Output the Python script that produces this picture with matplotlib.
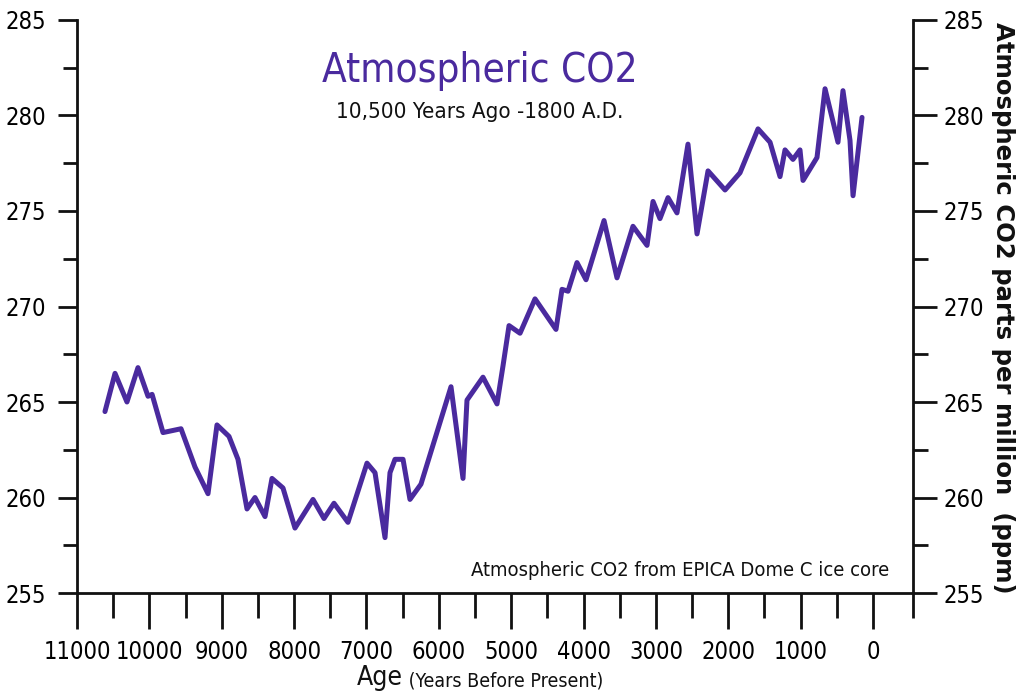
import matplotlib
matplotlib.use("Agg")
import matplotlib.pyplot as plt
from matplotlib import font_manager as fm
from matplotlib.ticker import FixedLocator, MultipleLocator

# data ---------------------------------------------------------------------------------------------------------------
age = [10614, 10475, 10310, 10158, 10019, 9963, 9812, 9563, 9370, 9190, 9066, 8900, 8776, 8651, 8541, 8402, 8306, 8154,
       7988, 7739, 7587, 7449, 7256, 6993, 6882, 6744, 6675, 6606, 6495, 6399, 6247, 5832, 5666, 5611,
       5390, 5196, 5113, 5030, 4878, 4671, 4381, 4298, 4215, 4091, 3966, 3717, 3538, 3317, 3123, 3040,
       2944, 2833, 2709, 2557, 2432, 2280, 2045, 1838, 1589, 1423, 1285, 1216, 1106, 1009, 967, 774,
       663, 484, 415, 318, 276, 152]
co2 = [264.5, 266.5, 265.0, 266.8, 265.3, 265.4, 263.4, 263.6, 261.6, 260.2, 263.8, 263.2, 262.0, 259.4, 260.0, 259.0, 261.0, 260.5,
       258.4, 259.9, 258.9, 259.7, 258.7, 261.8, 261.3, 257.9, 261.3, 262.0, 262.0, 259.9, 260.7, 265.8, 261.0, 265.1,
       266.3, 264.9, 266.9, 269.0, 268.6, 270.4, 268.8, 270.9, 270.8, 272.3, 271.4, 274.5, 271.5, 274.2, 273.2, 275.5,
       274.6, 275.7, 274.9, 278.5, 273.8, 277.1, 276.1, 277.0, 279.3, 278.6, 276.8, 278.2, 277.7, 278.2, 276.6, 277.8,
       281.4, 278.6, 281.3, 278.7, 275.8, 279.9]

x_ticks = [11000, 10000, 9000, 8000, 7000, 6000, 5000, 4000, 3000, 2000, 1000, 0]
x_minor = [10500, 9500, 8500, 7500, 6500, 5500, 4500, 3500, 2500, 1500, 500]
y_ticks = [255, 260, 265, 270, 275, 280, 285]

# look for a condensed face, the original uses one -------------------------------------------------------------------
narrow_file = None
for f in fm.fontManager.ttflist:
    if f.style != 'normal' or f.weight not in (400, 'normal', 'regular', 'book'):
        continue
    if 'Narrow' in f.name or 'Condensed' in f.name or f.stretch in ('condensed', 'semi-condensed'):
        narrow_file = f.fname
        break

if narrow_file:
    def fp(size):
        return fm.FontProperties(fname=narrow_file, size=size)
    k = 1.0
else:
    def fp(size):
        return fm.FontProperties(family=['Liberation Sans', 'DejaVu Sans'], size=size)
    k = 0.82

purple = '#4a2a9e'
ink = '#111111'

fig = plt.figure(figsize=(10.19, 6.94), dpi=100)
ax = fig.add_axes([0.0756, 0.1455, 0.8204, 0.8257])

ax.plot(age, co2, color=purple, lw=3.6, solid_joinstyle='round', solid_capstyle='round')

ax.set_xlim(11000, -553)
ax.set_ylim(255, 285)

# spines and ticks ----------------------------------------------------------------------------------------------------
ax.spines['top'].set_visible(False)
for s in ['left', 'bottom', 'right']:
    ax.spines[s].set_linewidth(2)
    ax.spines[s].set_color(ink)

ax.set_xticks(x_ticks)
ax.set_xticklabels([str(t) for t in x_ticks])
ax.xaxis.set_minor_locator(FixedLocator(x_minor))
ax.tick_params(axis='x', which='major', direction='out', length=26, width=2, pad=8, color=ink)
ax.tick_params(axis='x', which='minor', direction='out', length=18, width=2, color=ink)

ax.set_yticks(y_ticks)
ax.set_yticklabels([str(t) for t in y_ticks])
ax.yaxis.set_minor_locator(MultipleLocator(2.5))
ax.tick_params(axis='y', which='major', direction='out', length=14, width=2, pad=8, color=ink,
               left=True, right=True, labelleft=True, labelright=True)
ax.tick_params(axis='y', which='minor', direction='out', length=10, width=2, color=ink,
               left=True, right=True)
# right hand ticks are a little longer
for tick in ax.yaxis.get_major_ticks():
    tick.tick2line.set_markersize(17)
for tick in ax.yaxis.get_minor_ticks():
    tick.tick2line.set_markersize(11)

for lab in ax.get_xticklabels() + ax.get_yticklabels():
    lab.set_fontproperties(fp(17 * k))
for tick in ax.yaxis.get_major_ticks():
    tick.label2.set_fontproperties(fp(17 * k))

# right spine runs a bit below the axis
ax.plot([1, 1], [255, 253.7], color=ink, lw=2, clip_on=False, solid_capstyle='butt',
        transform=ax.get_yaxis_transform())

# texts -----------------------------------------------------------------------------------------------------------------
fig.text(0.471, 0.882, 'Atmospheric CO2', color=purple, fontproperties=fp(29 * k), ha='center', va='baseline')
fig.text(0.471, 0.830, '10,500 Years Ago -1800 A.D.', color=ink, fontproperties=fp(16 * k),
         ha='center', va='baseline')
ax.text(0.972, 0.03, 'Atmospheric CO2 from EPICA Dome C ice core', transform=ax.transAxes,
        fontproperties=fp(14.5 * k), ha='right', va='baseline', color=ink)

t_age = fig.text(0.350, 0.013, 'Age', fontproperties=fp(19 * k), ha='left', va='baseline', color=ink)
ax.annotate(' (Years Before Present)', xy=(1, 0), xycoords=t_age, fontproperties=fp(14 * k),
            ha='left', va='bottom', color=ink, annotation_clip=False)

fig.text(0.984, 0.557, 'Atmospheric CO2 parts per million  (ppm)', rotation=-90,
         fontproperties=fm.FontProperties(family='DejaVu Sans', weight='bold', stretch='normal', size=17.6),
         ha='center', va='center', color=ink)

fig.savefig('out.png', dpi=100, facecolor='white')
